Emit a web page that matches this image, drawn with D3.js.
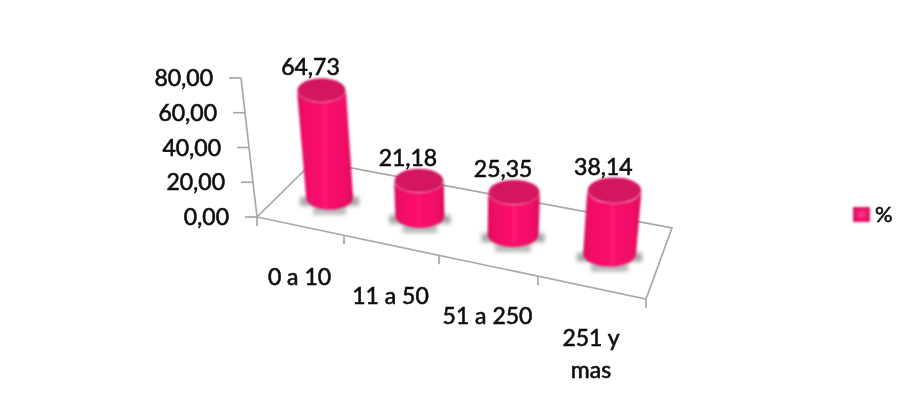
<!DOCTYPE html>
<html>
<head>
<meta charset="utf-8">
<script src="https://cdn.jsdelivr.net/npm/d3@7/dist/d3.min.js"></script>
<style>
html,body{margin:0;padding:0;background:#fff}
svg{display:block}
text{font-family:Lato,"Open Sans",sans-serif;fill:#0c0c0c;stroke:#0c0c0c;stroke-width:0.6px}
</style>
</head>
<body>
<svg id="chart" width="904" height="406"></svg>
<script>
const categories = [["0 a 10"], ["11 a 50"], ["51 a 250"], ["251 y", "mas"]];
const values = [64.73, 21.18, 25.35, 38.14];
const valueLabels = ["64,73", "21,18", "25,35", "38,14"];
const axisTicks = [0, 20, 40, 60, 80];
const axisTickLabels = ["0,00", "20,00", "40,00", "60,00", "80,00"];
const seriesName = "%";

const svg = d3.select("#chart");
const defs = svg.append("defs");

const bodyGrad = defs.append("linearGradient").attr("id", "body");
[[0, "#dc0c5c"], [0.12, "#ef0e66"], [0.5, "#fc126e"], [0.85, "#f10f68"], [1, "#d80c5a"]]
  .forEach(([o, c]) => bodyGrad.append("stop").attr("offset", o).attr("stop-color", c));
const swatchGrad = defs.append("radialGradient").attr("id", "swatch");
[[0, "#fb3f8d"], [0.6, "#f01a6e"], [1, "#d81462"]]
  .forEach(([o, c]) => swatchGrad.append("stop").attr("offset", o).attr("stop-color", c));
defs.append("filter").attr("id", "soft").append("feGaussianBlur").attr("stdDeviation", 0.9);
defs.append("filter").attr("id", "softLine").append("feGaussianBlur").attr("stdDeviation", 0.5);
defs.append("filter").attr("id", "softText").append("feGaussianBlur").attr("stdDeviation", 0.35);
defs.append("filter").attr("id", "shadow")
  .attr("x", "-30%").attr("y", "-60%").attr("width", "160%").attr("height", "220%")
  .append("feGaussianBlur").attr("stdDeviation", 2);

// Projection scales of the tilted floor
const index = d3.range(categories.length + 1);
const frontX = d3.scaleLinear().domain(index).range([257, 344, 439, 538, 646]);
const backX = d3.scaleLinear().domain([0, categories.length]).range([314, 672]);
const frontY = d3.scaleLinear().domain([257, 646]).range([217, 299]);
const backY = d3.scaleLinear().domain([314, 672]).range([161, 228]);
const axisH = d3.scaleLinear().domain([0, 80]).range([0, 139]);
const barH = d3.scaleLinear().domain([0, 80]).range([0, 133]);
const radiusX = d3.scaleLinear().domain([0, 3]).range([23.5, 26.5]);
const radiusY = d3.scaleLinear().domain([0, 3]).range([11.8, 13]);

function floor(u, v) {
  const fx = frontX(u), bx = backX(u);
  const fy = frontY(fx), by = backY(bx);
  return [fx + (bx - fx) * v, fy + (by - fy) * v];
}
function lift(p, h) {
  return [p[0] + 0.00054 * (p[0] - 470) * h, p[1] - h];
}

const lineColor = "#a8a8a8";
const gAxis = svg.append("g").attr("filter", "url(#softLine)")
  .attr("fill", "none").attr("stroke", lineColor).attr("stroke-width", 1.7);

// floor outline
const corners = [floor(0, 0), floor(4, 0), floor(4, 1), floor(0, 1)];
gAxis.append("path").attr("d", d3.line()(corners) + "Z");

// category ticks
index.forEach(i => {
  const p = floor(i, 0);
  gAxis.append("line").attr("x1", p[0]).attr("x2", p[0])
    .attr("y1", p[1]).attr("y2", p[1] + 9);
});

// value axis
const origin = floor(0, 0);
const top80 = lift(origin, axisH(80));
gAxis.append("line").attr("x1", origin[0]).attr("y1", origin[1])
  .attr("x2", top80[0]).attr("y2", top80[1]);
axisTicks.forEach(t => {
  const p = lift(origin, axisH(t));
  gAxis.append("line").attr("x1", p[0]).attr("y1", p[1])
    .attr("x2", p[0] - 12).attr("y2", p[1]);
});

// shadows
const gShadow = svg.append("g").attr("filter", "url(#shadow)");
values.forEach((v, i) => {
  const b = floor(i + 0.5, 0.5), rx = radiusX(i), ry = radiusY(i);
  gShadow.append("rect")
    .attr("x", b[0] - rx - 6).attr("y", b[1] - 1)
    .attr("width", 2 * rx + 12).attr("height", 9)
    .attr("fill", "#a6a6a6");
  gShadow.append("rect")
    .attr("x", b[0] - rx * 0.7).attr("y", b[1] + 4)
    .attr("width", 1.4 * rx).attr("height", ry + 1)
    .attr("fill", "#b8b8b8");
});

// cylinders
const gBars = svg.append("g").attr("filter", "url(#soft)");
values.forEach((v, i) => {
  const b = floor(i + 0.5, 0.5);
  const h = barH(v);
  const t = lift(b, h);
  const rx = radiusX(i), ry = radiusY(i);
  const k = 1 + 0.0004 * h;
  const trx = rx * k, tryy = ry * k;
  gBars.append("path")
    .attr("d", `M${t[0] - trx},${t[1]} L${b[0] - rx},${b[1]} A${rx},${ry} 0 0 0 ${b[0] + rx},${b[1]} L${t[0] + trx},${t[1]} A${trx},${tryy} 0 0 1 ${t[0] - trx},${t[1]} Z`)
    .attr("fill", "url(#body)");
  gBars.append("ellipse")
    .attr("cx", t[0]).attr("cy", t[1]).attr("rx", trx - 0.5).attr("ry", tryy - 0.5)
    .attr("fill", "#d3125f");
});

const gText = svg.append("g").attr("filter", "url(#softText)");

// value labels
values.forEach((v, i) => {
  const t = lift(floor(i + 0.5, 0.5), barH(v));
  gText.append("text").attr("x", t[0] - 11).attr("y", t[1] - 15)
    .attr("text-anchor", "middle").attr("font-size", 23).text(valueLabels[i]);
});

// axis labels
axisTicks.forEach((t, i) => {
  const p = lift(origin, axisH(t));
  gText.append("text").attr("x", p[0] - 28).attr("y", p[1] + 8)
    .attr("text-anchor", "end").attr("font-size", 23).text(axisTickLabels[i]);
});

// category labels
categories.forEach((lines, i) => {
  const p = floor(i + 0.5, 0);
  lines.forEach((s, j) => {
    gText.append("text").attr("x", p[0] - 1).attr("y", p[1] + 58.5 + j * 32)
      .attr("text-anchor", "middle").attr("font-size", 23).text(s);
  });
});

// legend
gBars.append("rect").attr("x", 853).attr("y", 207).attr("width", 17).attr("height", 15)
  .attr("fill", "url(#swatch)");
gText.append("text").attr("x", 875).attr("y", 222).attr("font-size", 22).text(seriesName);
</script>
</body>
</html>
